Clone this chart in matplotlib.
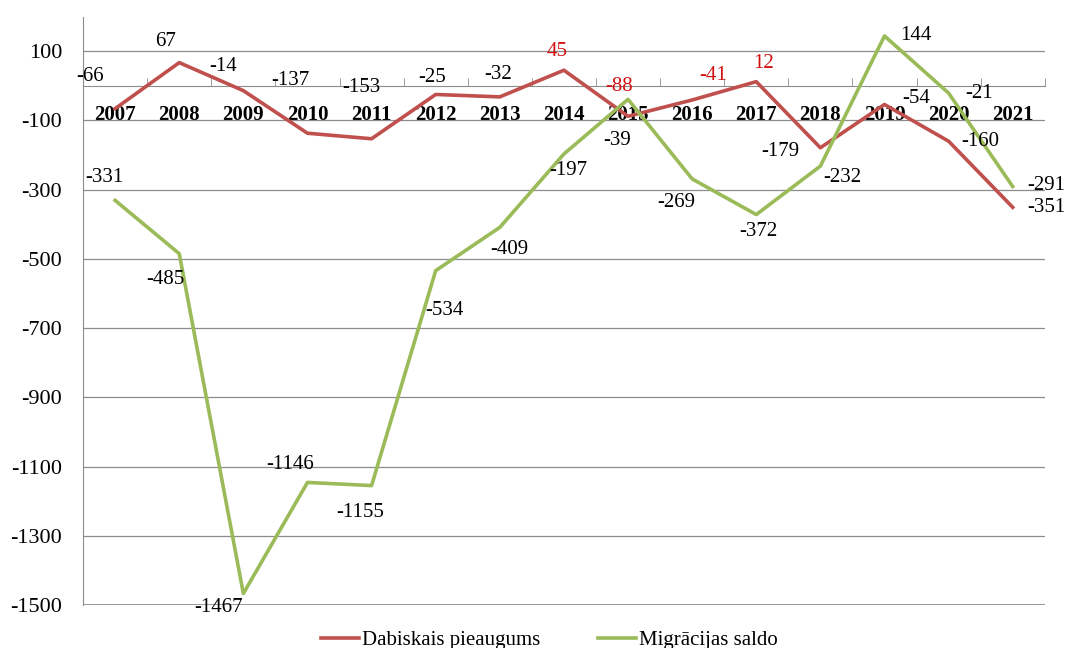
import matplotlib
matplotlib.use("Agg")
import matplotlib.pyplot as plt
from matplotlib.ticker import FixedLocator

plt.rcParams['font.family'] = ['Liberation Serif', 'DejaVu Serif']
plt.rcParams['axes.unicode_minus'] = False

years = ['2007', '2008', '2009', '2010', '2011', '2012', '2013', '2014',
         '2015', '2016', '2017', '2018', '2019', '2020', '2021']
dabiskais = [-66, 67, -14, -137, -153, -25, -32, 45, -88, -41, 12, -179, -54, -160, -351]
migracijas = [-331, -485, -1467, -1146, -1155, -534, -409, -197, -39, -269, -372, -232, 144, -21, -291]

# label offsets in pixels (dx, dy) for each point
red_off = [(-25, 32), (-14, 21), (-20, 24), (-17, 53), (-10, 51), (-4, 17), (-2, 22), (-7, 19),
           (-9, 30), (21, 25), (7, 18), (-40, -4), (32, 6), (32, 0), (34, 0)]
green_off = [(-11, 23), (-14, -26), (-25, -14), (-17, 18), (-11, -27), (9, -40), (10, -22), (4, -17),
             (-11, -41), (-16, -24), (2, -17), (22, -11), (31, 0), (30, 0), (34, 1)]
red_colored = ['2014', '2015', '2016', '2017']

red = '#C0504D'
green = '#9BBB59'
grid = '#8C8C8C'

fig = plt.figure(figsize=(10.65, 6.48), dpi=100)
ax = fig.add_axes([0.078, 0.0664, 0.903, 0.908])

x = list(range(len(years)))
ax.plot(x, dabiskais, color=red, lw=2.6, label='Dabiskais pieaugums', zorder=3)
ax.plot(x, migracijas, color=green, lw=2.6, label='Migrācijas saldo', zorder=3)

for i, v in enumerate(dabiskais):
    c = '#D01010' if years[i] in red_colored else 'black'
    ax.annotate(str(v), (i, v), xytext=red_off[i], textcoords='offset pixels',
                ha='center', va='center', fontsize=15, color=c, zorder=4)
for i, v in enumerate(migracijas):
    ax.annotate(str(v), (i, v), xytext=green_off[i], textcoords='offset pixels',
                ha='center', va='center', fontsize=15, color='black', zorder=4)

ax.set_xlim(-0.5, len(years) - 0.5)
ax.set_ylim(-1500, 200)
ax.set_yticks(range(-1500, 101, 200))
ax.yaxis.grid(True, color=grid, lw=0.9)
ax.axhline(-1500, color=grid, lw=1.2, zorder=2)
ax.tick_params(axis='y', length=0, pad=15, labelsize=16)

ax.spines['top'].set_visible(False)
ax.spines['right'].set_visible(False)
ax.spines['left'].set_color(grid)
ax.spines['bottom'].set_position(('data', 0))
ax.spines['bottom'].set_color(grid)

ax.set_xticks(x)
ax.set_xticklabels(years, fontweight='bold', fontsize=15)
ax.xaxis.set_minor_locator(FixedLocator([i + 0.5 for i in range(len(years))]))
ax.tick_params(axis='x', which='major', length=0, pad=14)
ax.tick_params(axis='x', which='minor', direction='in', length=6, color=grid)
ax.set_axisbelow(True)

fig.legend(loc='center', bbox_to_anchor=(0.516, 0.012), ncol=2, frameon=False,
           fontsize=15, handlelength=1.8, columnspacing=2.8, handletextpad=0.15)

fig.savefig('out.png', dpi=100)
